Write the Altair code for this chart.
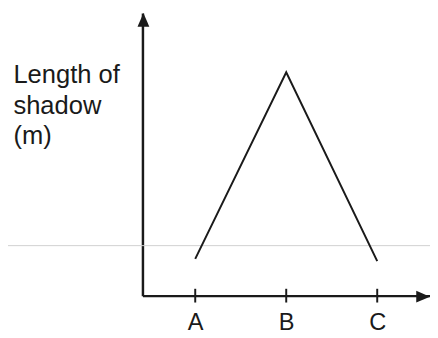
import altair as alt
import pandas as pd

# Data (arbitrary units for length of shadow)
positions = ["A", "B", "C"]
shadow_length = [13.0, 79.0, 12.2]

df = pd.DataFrame({"pos": positions, "len": shadow_length})

W, H = 293, 288
FONT = "Liberation Sans"
INK = "#1a1a1a"
xscale = alt.Scale(type="point", domain=positions, padding=0.58, align=0.5)

x_enc = alt.X(
    "pos:O",
    scale=xscale,
    axis=alt.Axis(
        title=None, domain=True, domainColor=INK, domainWidth=2.5,
        ticks=False, tickSize=0, labelPadding=16, labelAngle=0,
        labelFont=FONT, labelFontSize=24, labelColor=INK, grid=False,
    ),
)
y_enc = alt.Y(
    "len:Q",
    scale=alt.Scale(domain=[0, 100], nice=False, zero=True),
    axis=alt.Axis(
        title=["Length of", "shadow", "(m)"], titleAngle=0, titleAlign="left",
        titleBaseline="alphabetic", titleX=-132, titleY=71,
        titleFont=FONT, titleFontSize=26, titleFontWeight="normal",
        titleColor=INK, titleLineHeight=31,
        domain=True, domainColor=INK, domainWidth=2.5,
        ticks=False, labels=False, grid=False,
    ),
)

line = alt.Chart(df).mark_line(color=INK, strokeWidth=2).encode(x=x_enc, y=y_enc)

ticks = alt.Chart(df).mark_rule(color=INK, strokeWidth=2).encode(
    x=alt.X("pos:O", scale=xscale),
    y=alt.value(H - 7),
    y2=alt.value(H + 7),
)

scan_line = alt.Chart(pd.DataFrame({"v": [17.7]})).mark_rule(
    color="#d0d0d0", strokeWidth=1
).encode(
    y=alt.Y("v:Q", scale=alt.Scale(domain=[0, 100], nice=False)),
    x=alt.value(-137),
    x2=alt.value(W),
)

arrow_up = alt.Chart(pd.DataFrame({"a": [1]})).mark_point(
    shape="M0,-1L0.86,1L-0.86,1Z", filled=True, color=INK, opacity=1, size=196
).encode(x=alt.value(1), y=alt.value(7))

arrow_right = alt.Chart(pd.DataFrame({"a": [1]})).mark_point(
    shape="M1,0L-1,-0.86L-1,0.86Z", filled=True, color=INK, opacity=1, size=196
).encode(x=alt.value(W - 7), y=alt.value(H + 1))

chart = alt.layer(scan_line, line, ticks, arrow_up, arrow_right).properties(
    width=W, height=H,
    background="white",
    autosize=alt.AutoSizeParams(type="none"),
    padding={"left": 137, "top": 2, "right": 0, "bottom": 38},
).configure_view(strokeWidth=0, stroke="transparent")

chart.save("out.html", embed_options={"renderer": "svg", "actions": False})
